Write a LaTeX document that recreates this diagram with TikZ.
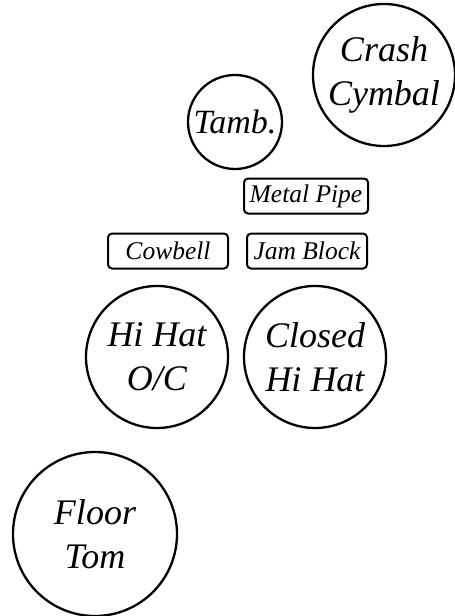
\documentclass[tikz,border=0pt]{standalone}
\usepackage{fontspec}
\setmainfont{Liberation Serif}
\begin{document}
\begin{tikzpicture}[x=1pt,y=-1pt,
  drum/.style={draw, circle, line width=2.3pt, inner sep=0pt, align=center,
    font=\fontsize{36}{44}\selectfont\itshape},
  perc/.style={draw, rectangle, rounded corners=4pt, line width=2pt, inner sep=0pt,
    minimum height=35pt, font=\fontsize{25.5}{30}\selectfont\itshape}]
\useasboundingbox (0,0) rectangle (455,616);
\node[drum, minimum size=142pt] (crash) at (384,75) {Crash\\Cymbal};
\node[drum, minimum size=94pt, font=\fontsize{34}{40}\selectfont\itshape] (tamb) at (235,122) {Tamb.};
\node[perc, minimum width=124pt] (pipe) at (306,196) {Metal Pipe};
\node[perc, minimum width=120pt] (cowbell) at (168,251) {Cowbell};
\node[perc, minimum width=120pt] (jam) at (307,251) {Jam Block};
\node[drum, minimum size=142pt] (hhoc) at (157,357) {Hi Hat\\O/C};
\node[drum, minimum size=142pt] (chh) at (315,357) {Closed\\Hi Hat};
\node[drum, minimum size=164pt] (floor) at (95,534) {Floor\\Tom};
\end{tikzpicture}
\end{document}
